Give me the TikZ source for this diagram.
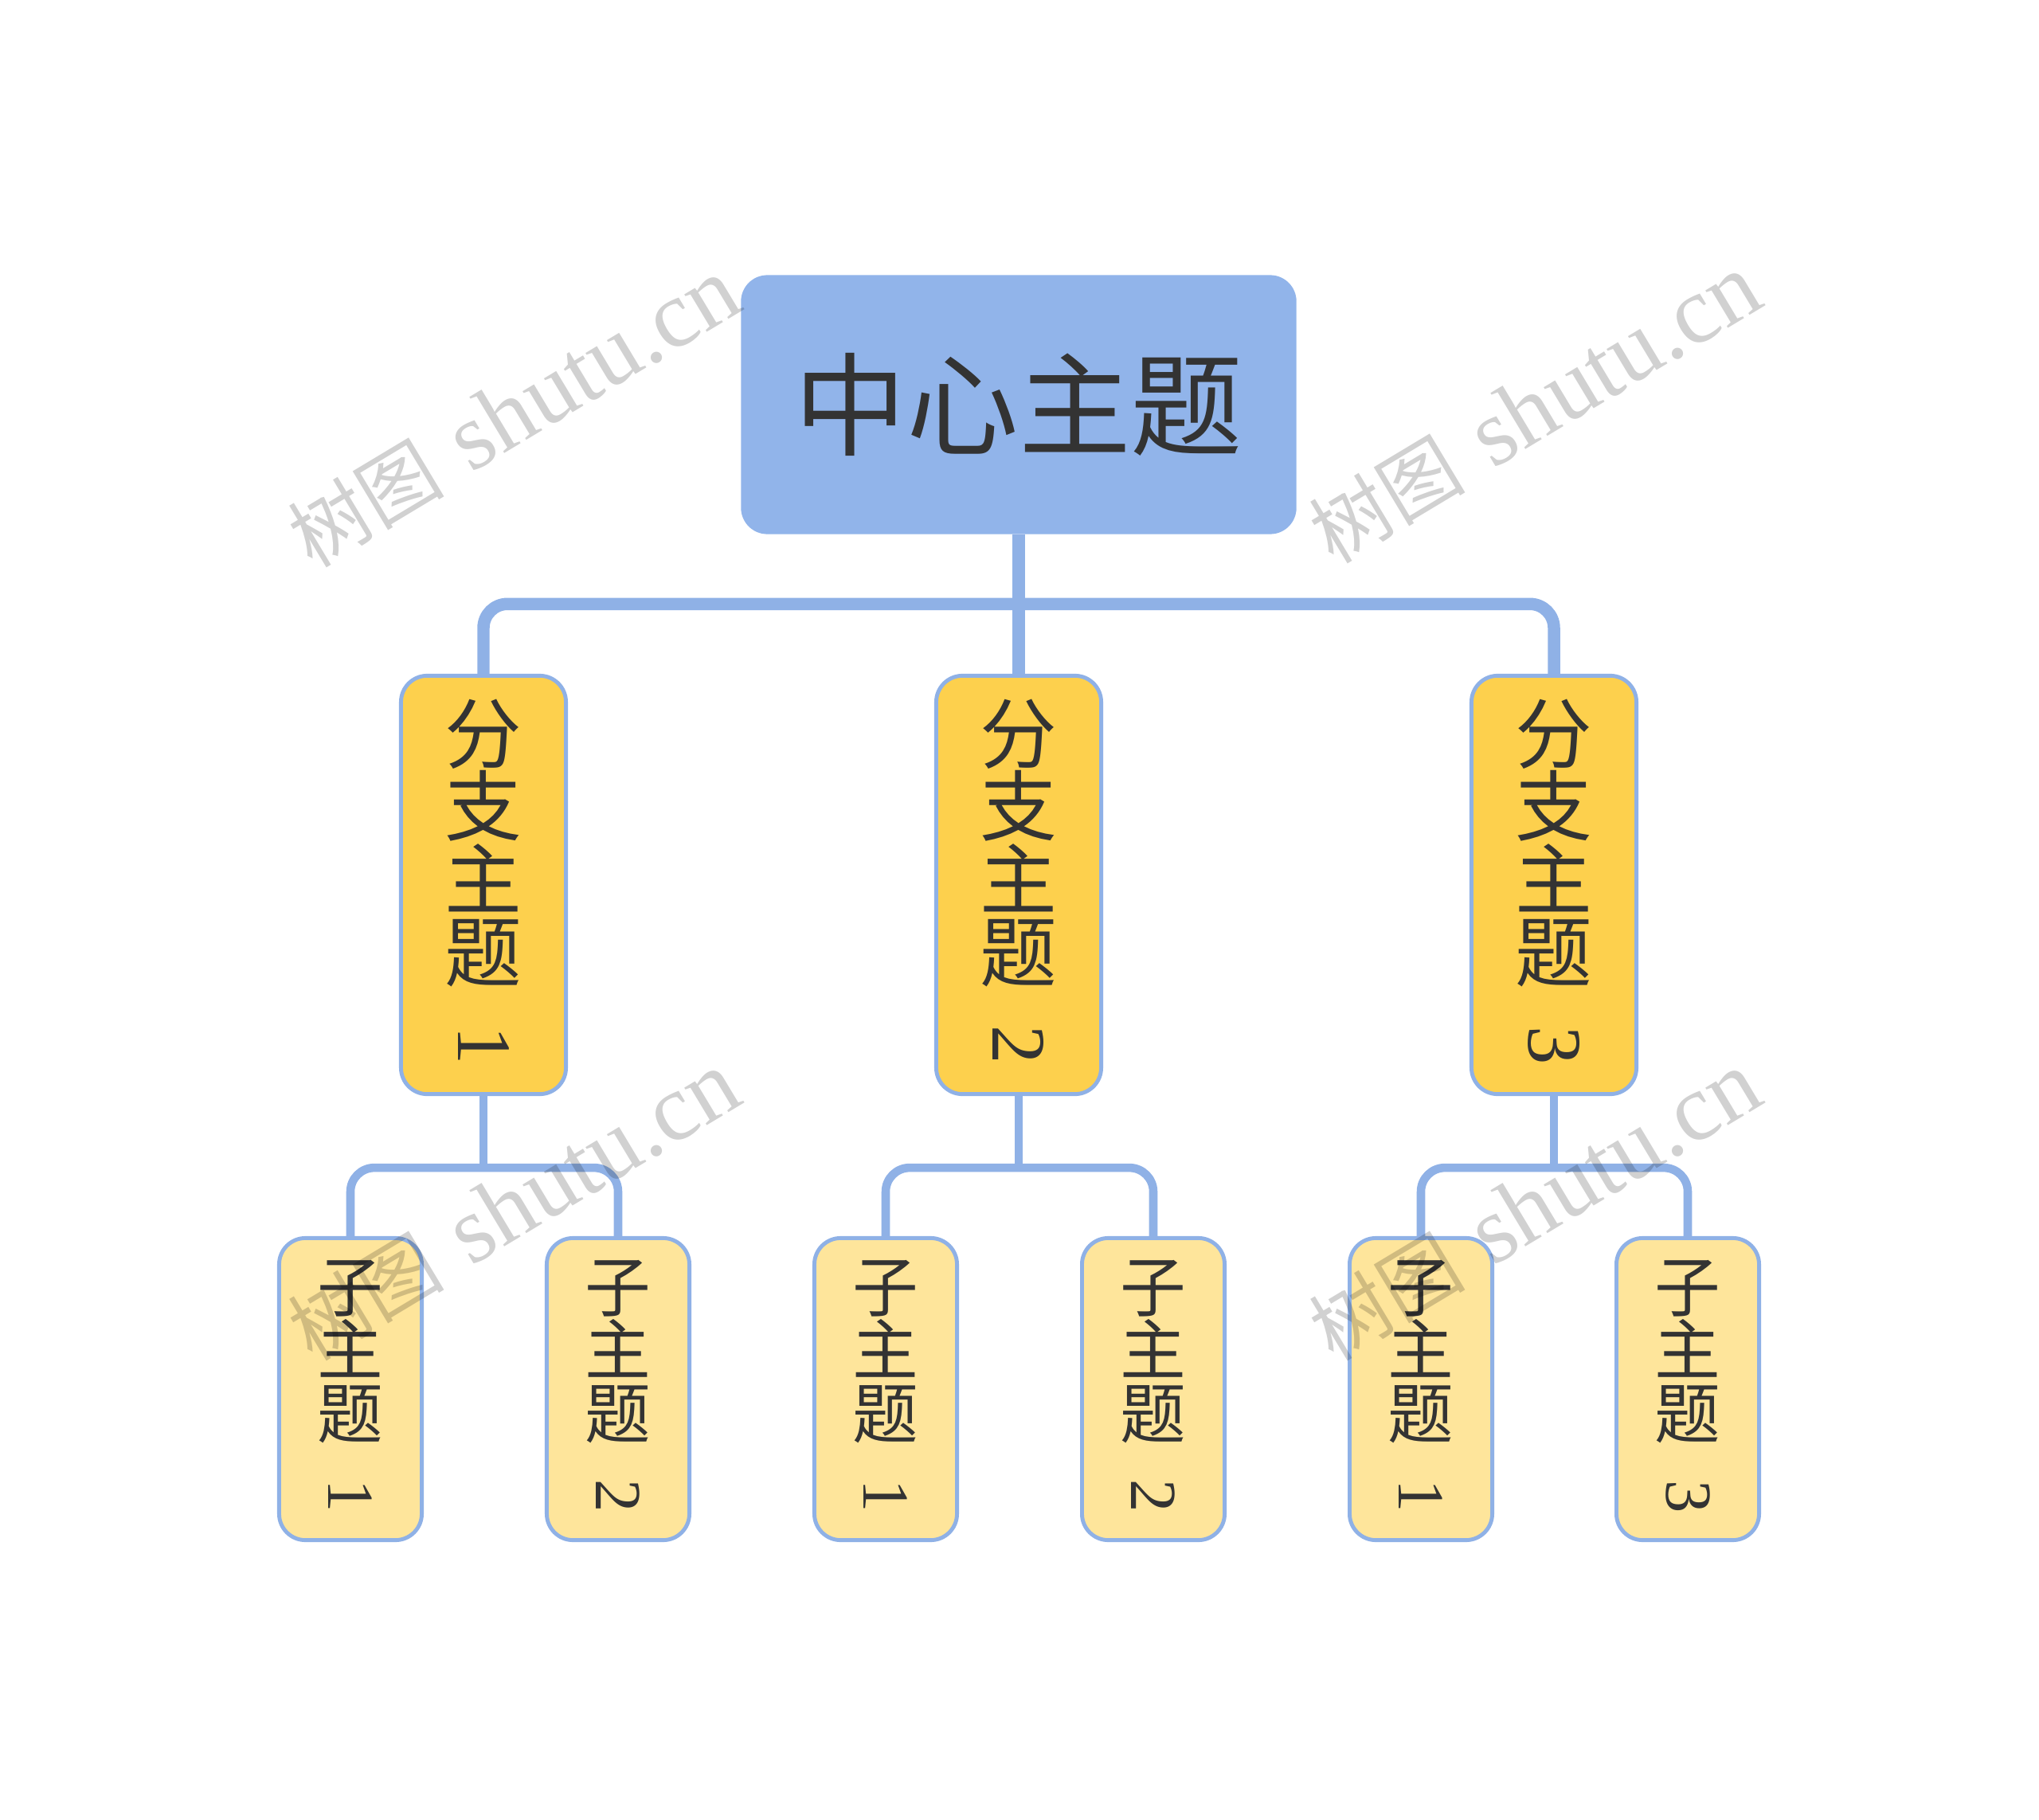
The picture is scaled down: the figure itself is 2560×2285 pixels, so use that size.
\documentclass[tikz,border=0pt]{standalone}
\usepackage{fontspec}
\usepackage{graphicx}
\usetikzlibrary{calc, positioning}
\newfontfamily\cjk{Noto Sans CJK SC}
\newfontfamily\numfont{Liberation Serif}
\definecolor{rootblue}{RGB}{145, 180, 234}
\definecolor{linkblue}{RGB}{143, 177, 230}
\definecolor{branchyellow}{RGB}{253, 208, 77}
\definecolor{leafyellow}{RGB}{254, 229, 155}
\definecolor{ink}{RGB}{51, 51, 51}
\newcommand{\vnum}[1]{\rotatebox[origin=c]{-90}{\numfont #1}}
\newcommand{\wmark}{{\cjk\fontsize{28}{28}\selectfont 树图} {\numfont shutu.cn}}

\begin{document}
\begin{tikzpicture}[x=0.01cm, y=-0.01cm,
  root/.style={fill=rootblue, rounded corners=0.33cm, minimum width=6.97cm, minimum height=3.25cm,
    inner sep=0pt, text=ink, font=\cjk\fontsize{40}{40}\selectfont},
  branch/.style={draw=linkblue, line width=1.4pt, fill=branchyellow, rounded corners=0.33cm,
    minimum width=2.07cm, minimum height=5.25cm, inner sep=0pt, align=center, text=ink,
    font=\cjk\fontsize{27.5}{26}\selectfont},
  leaf/.style={draw=linkblue, line width=1.4pt, fill=leafyellow, rounded corners=0.33cm,
    minimum width=1.79cm, minimum height=3.79cm, inner sep=0pt, align=center, text=ink,
    font=\cjk\fontsize{23.5}{22.6}\selectfont},
  link/.style={draw=linkblue, line width=4.4pt, rounded corners=0.3cm},
  sublink/.style={link, line width=3pt},
  stamp/.style={rotate=31, text=black, text opacity=0.18, font=\fontsize{34}{34}\selectfont}]
  \useasboundingbox (0,0) rectangle (2560,2285);
  % central topic
  \node[root] (root) at (1279,508) {中心主题};
  % branches
  \node[branch] (b1) at (607,1111) {分\\支\\主\\题\\[6pt]\vnum{1}};
  \node[branch] (b2) at (1279,1111) {分\\支\\主\\题\\[6pt]\vnum{2}};
  \node[branch] (b3) at (1951,1111) {分\\支\\主\\题\\[6pt]\vnum{3}};
  % sub topics
  \node[leaf] (c11) at (440,1744) {子\\主\\题\\[6pt]\vnum{1}};
  \node[leaf] (c12) at (776,1744) {子\\主\\题\\[6pt]\vnum{2}};
  \node[leaf] (c21) at (1112,1744) {子\\主\\题\\[6pt]\vnum{1}};
  \node[leaf] (c22) at (1448,1744) {子\\主\\题\\[6pt]\vnum{2}};
  \node[leaf] (c31) at (1784,1744) {子\\主\\题\\[6pt]\vnum{1}};
  \node[leaf] (c32) at (2119,1744) {子\\主\\题\\[6pt]\vnum{3}};
  % connectors
  \coordinate (hub) at ($(root.south)+(0,87)$);
  \draw[link] (root.south) -- (b2.north);
  \draw[link] (b1.north) |- (hub) -| (b3.north);
  \coordinate (j1) at ($(b1.south)+(0,90)$);
  \coordinate (j2) at ($(b2.south)+(0,90)$);
  \coordinate (j3) at ($(b3.south)+(0,90)$);
  \draw[sublink] (b1.south) -- (j1);
  \draw[sublink] (c11.north) |- (j1) -| (c12.north);
  \draw[sublink] (b2.south) -- (j2);
  \draw[sublink] (c21.north) |- (j2) -| (c22.north);
  \draw[sublink] (b3.south) -- (j3);
  \draw[sublink] (c31.north) |- (j3) -| (c32.north);
  % watermarks
  \node[stamp] (wm1) at (645,519) {\wmark};
  \node[stamp] (wm2) at (1927,514) {\wmark};
  \node[stamp] (wm3) at (645,1515) {\wmark};
  \node[stamp] (wm4) at (1927,1515) {\wmark};
\end{tikzpicture}
\end{document}
